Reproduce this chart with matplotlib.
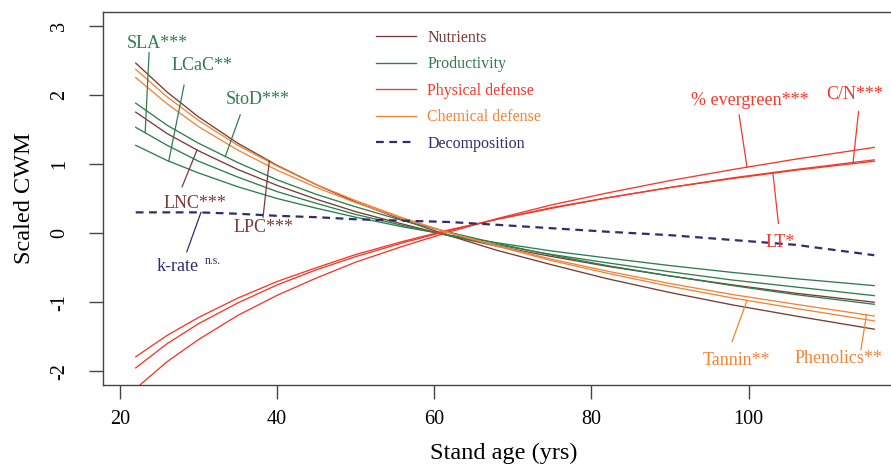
"""
Scaled community-weighted means of leaf traits along a stand age gradient.
"""

import numpy as np
import matplotlib
matplotlib.use("Agg")
import matplotlib.pyplot as plt

# ---- data ----------------------------------------------------------------
age = [22, 26, 30, 35, 40, 45, 50, 56, 62, 68, 75, 82, 90, 98, 106, 116]

# nutrients
lpc = [2.46, 2.04, 1.68, 1.30, 0.98, 0.70, 0.45, 0.19, -0.04, -0.25, -0.46, -0.66, -0.86, -1.04, -1.20, -1.39]
lnc = [1.75, 1.44, 1.19, 0.92, 0.69, 0.49, 0.31, 0.13, -0.04, -0.19, -0.34, -0.48, -0.62, -0.75, -0.87, -1.00]
# productivity
sla = [1.53, 1.27, 1.04, 0.81, 0.60, 0.43, 0.27, 0.11, -0.04, -0.17, -0.31, -0.43, -0.56, -0.68, -0.78, -0.905]
lcac = [1.27, 1.05, 0.87, 0.67, 0.50, 0.36, 0.23, 0.09, -0.03, -0.14, -0.26, -0.36, -0.47, -0.57, -0.66, -0.76]
stod = [1.88, 1.56, 1.30, 1.02, 0.77, 0.56, 0.38, 0.18, 0.01, -0.15, -0.32, -0.47, -0.62, -0.76, -0.89, -1.03]
# physical defense
evergreen = [-2.25, -1.86, -1.54, -1.19, -0.90, -0.65, -0.42, -0.19, 0.02, 0.21, 0.41, 0.58, 0.76, 0.92, 1.07, 1.24]
cn = [-1.79, -1.48, -1.22, -0.94, -0.70, -0.50, -0.31, -0.12, 0.05, 0.20, 0.37, 0.51, 0.66, 0.80, 0.92, 1.06]
lt = [-1.95, -1.60, -1.31, -1.01, -0.75, -0.53, -0.34, -0.14, 0.04, 0.20, 0.36, 0.51, 0.66, 0.79, 0.91, 1.04]
# chemical defense
tannin = [2.37, 1.97, 1.63, 1.27, 0.97, 0.70, 0.47, 0.22, 0.00, -0.19, -0.40, -0.58, -0.77, -0.94, -1.09, -1.27]
phenolics = [2.25, 1.87, 1.54, 1.20, 0.91, 0.66, 0.44, 0.21, 0.00, -0.18, -0.38, -0.55, -0.73, -0.89, -1.03, -1.20]
# decomposition
krate = [0.30, 0.30, 0.30, 0.28, 0.25, 0.23, 0.20, 0.18, 0.16, 0.12, 0.07, 0.02, -0.03, -0.10, -0.17, -0.32]

group_names = ["Nutrients", "Productivity", "Physical defense", "Chemical defense", "Decomposition"]
x_ticks = [20, 40, 60, 80, 100]
y_ticks = [-2, -1, 0, 1, 2, 3]

BROWN = "#7a3b36"
GREEN = "#2f7d4c"
RED = "#f2392b"
ORANGE = "#f08539"
NAVY = "#2d2e6c"

plt.rcParams["font.family"] = ["Liberation Serif", "DejaVu Serif"]
plt.rcParams["axes.unicode_minus"] = False


def pointer(ax, series, text, color, text_xy, start_xy, x_end):
    """Label with a thin leader line ending on the curve at x_end."""
    ax.text(*text_xy, text, color=color, fontsize=13, ha="center", va="center")
    y_end = np.interp(x_end, age, series)
    ax.plot([start_xy[0], x_end], [start_xy[1], y_end], color=color, lw=0.9)


def main():
    fig = plt.figure(figsize=(8.91, 4.69), dpi=100)
    ax = fig.add_axes([0.1153, 0.1791, 0.9012, 0.7947])

    lw = 0.95
    ax.plot(age, lpc, color=BROWN, lw=lw, label=group_names[0])
    ax.plot(age, lnc, color=BROWN, lw=lw)
    ax.plot(age, sla, color=GREEN, lw=lw, label=group_names[1])
    ax.plot(age, lcac, color=GREEN, lw=lw)
    ax.plot(age, stod, color=GREEN, lw=lw)
    ax.plot(age, evergreen, color=RED, lw=lw, label=group_names[2])
    ax.plot(age, cn, color=RED, lw=lw)
    ax.plot(age, lt, color=RED, lw=lw)
    ax.plot(age, tannin, color=ORANGE, lw=lw, label=group_names[3])
    ax.plot(age, phenolics, color=ORANGE, lw=lw)
    ax.plot(age, krate, color=NAVY, lw=1.6, dashes=(3.5, 2.5), label=group_names[4])

    # trait labels
    pointer(ax, sla, "SLA***", GREEN, (24.8, 2.75), (23.7, 2.61), 23.2)
    pointer(ax, lcac, "LCaC**", GREEN, (30.4, 2.42), (28.15, 2.14), 26.2)
    pointer(ax, stod, "StoD***", GREEN, (37.5, 1.94), (35.3, 1.71), 33.4)
    pointer(ax, lnc, "LNC***", BROWN, (29.6, 0.43), (27.9, 0.67), 29.8)
    pointer(ax, lpc, "LPC***", BROWN, (38.3, 0.08), (38.2, 0.23), 39.0)
    pointer(ax, krate, "k-rate", NAVY, (27.3, -0.49), (28.5, -0.27), 30.3)
    ax.text(31.8, -0.40, "n.s.", color=NAVY, fontsize=8.5, ha="center", va="center")
    pointer(ax, evergreen, "% evergreen***", RED, (100.1, 1.92), (98.8, 1.71), 99.8)
    pointer(ax, cn, "C/N***", RED, (113.5, 2.0), (114.0, 1.76), 113.3)
    pointer(ax, lt, "LT*", RED, (104.0, -0.13), (103.8, 0.14), 103.1)
    pointer(ax, tannin, "Tannin**", ORANGE, (98.5, -1.84), (97.9, -1.57), 99.8)
    pointer(ax, phenolics, "Phenolics**", ORANGE, (111.4, -1.81), (114.3, -1.69), 115.0)

    ax.set_xlim(17.8, 120)
    ax.set_ylim(-2.198, 3.195)
    ax.set_xticks(x_ticks)
    ax.set_yticks(y_ticks)
    ax.tick_params(axis="both", length=10, width=1.0, color="#444444", labelsize=14.5)
    ax.tick_params(axis="x", pad=8)
    ax.tick_params(axis="y", pad=14)
    for lab in ax.get_yticklabels():
        lab.set_rotation(90)
        lab.set_va("center")
    for sp in ax.spines.values():
        sp.set_color("#444444")
        sp.set_linewidth(1.0)

    ax.set_xlabel("Stand age (yrs)", fontsize=17.5, labelpad=10)
    ax.set_ylabel("Scaled CWM", fontsize=17.5, labelpad=11)

    ax.legend(loc="upper left", bbox_to_anchor=(376 / 891, 1 - 30 / 469),
              bbox_transform=fig.transFigure, frameon=False, fontsize=11.5,
              handlelength=2.5, handletextpad=0.7, labelspacing=0.65,
              borderpad=0, borderaxespad=0, labelcolor="linecolor")

    fig.savefig("out.png", dpi=100)


if __name__ == "__main__":
    main()
